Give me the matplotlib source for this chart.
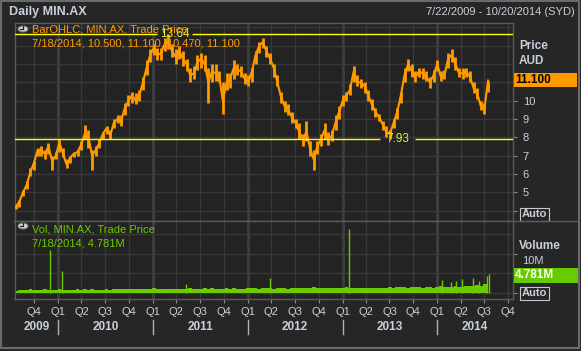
import matplotlib
matplotlib.use('Agg')
import matplotlib.pyplot as plt
import matplotlib.dates as mdates
from matplotlib.transforms import blended_transform_factory
from matplotlib.patches import Rectangle, Circle
from matplotlib.lines import Line2D
import pandas as pd

plt.rcParams['font.family'] = ['Liberation Sans', 'DejaVu Sans']

# ---------------- data ----------------
price_start = '2009-07-22'      # bi-weekly samples of the daily OHLC bars
price_close = [4.2, 4.5, 5.0, 5.4, 6.1, 6.6, 7.3, 7.3, 7.1, 7.5,
               6.7, 7.0, 7.7, 7.1, 6.5, 6.9, 7.1, 7.2, 7.6, 8.2,
               8.0, 7.0, 7.3, 7.7, 8.2, 8.5, 8.1, 8.8, 9.0, 8.9,
               9.6, 10.0, 10.3, 10.0, 10.3, 11.0, 11.8, 12.5, 12.9, 12.5,
               12.6, 13.1, 13.2, 12.7, 12.4, 12.7, 12.3, 12.0, 11.4, 11.5,
               12.1, 12.3, 12.0, 11.0, 11.6, 11.5, 11.3, 10.0, 11.0, 11.2,
               11.8, 11.7, 11.6, 11.2, 11.0, 11.6, 12.5, 13.0, 13.2, 12.7,
               12.3, 11.8, 11.0, 10.2, 9.7, 9.5, 9.1, 8.8, 8.3, 7.9,
               8.3, 7.4, 6.8, 7.5, 7.9, 8.4, 7.9, 8.1, 8.8, 9.4,
               10.0, 10.3, 10.6, 11.6, 11.0, 11.0, 10.8, 10.3, 9.8, 9.4,
               9.1, 8.7, 8.3, 8.2, 8.8, 9.4, 10.3, 11.4, 12.0, 11.6,
               11.3, 11.6, 11.5, 11.3, 11.0, 11.4, 12.0, 11.3, 11.4, 12.3,
               12.5, 12.0, 11.5, 11.5, 11.6, 11.3, 10.7, 10.4, 9.7, 9.6,
               11.1]
price_high = [4.3, 4.6, 5.1, 5.6, 6.3, 6.7, 7.4, 7.5, 7.3, 7.7,
              7.0, 7.2, 7.9, 7.4, 6.8, 7.0, 7.2, 7.3, 7.8, 8.7,
              8.4, 7.3, 7.5, 7.9, 8.3, 8.6, 8.4, 9.0, 9.2, 9.2,
              9.9, 10.3, 10.5, 10.4, 10.6, 11.3, 12.2, 12.8, 13.1, 12.9,
              12.9, 13.4, 13.64, 13.1, 12.8, 13.0, 12.7, 12.3, 11.8, 11.9,
              12.5, 12.6, 12.5, 11.8, 12.0, 12.0, 11.6, 11.0, 11.5, 11.5,
              12.2, 12.0, 11.9, 11.5, 11.4, 11.8, 12.7, 13.2, 13.4, 13.0,
              12.6, 12.0, 11.4, 10.5, 10.0, 9.8, 9.4, 9.0, 8.8, 8.2,
              8.9, 7.8, 7.3, 7.8, 8.2, 8.8, 8.3, 8.4, 9.2, 9.7,
              10.3, 10.5, 10.9, 11.9, 11.4, 11.2, 11.0, 10.6, 10.1, 9.6,
              9.3, 8.9, 8.6, 8.4, 9.0, 9.6, 10.5, 11.8, 12.3, 12.0,
              11.6, 11.8, 11.8, 11.6, 11.3, 11.7, 12.2, 11.6, 11.7, 12.6,
              12.8, 12.4, 11.8, 11.8, 11.8, 11.6, 11.0, 10.7, 10.0, 9.9,
              11.1]
price_low = [4.1, 4.2, 4.8, 5.2, 5.9, 6.2, 7.0, 7.0, 6.8, 7.1,
             6.2, 6.8, 7.2, 6.9, 6.3, 6.6, 6.9, 7.0, 7.3, 7.9,
             7.4, 6.2, 7.0, 7.4, 7.9, 8.2, 7.9, 8.5, 8.8, 8.6,
             9.2, 9.7, 9.9, 9.8, 10.0, 10.6, 11.4, 12.1, 12.5, 12.2,
             12.2, 12.7, 12.8, 12.4, 12.0, 12.3, 11.9, 11.6, 11.0, 11.2,
             11.7, 11.8, 11.6, 9.9, 11.0, 11.1, 11.0, 9.3, 10.6, 10.7,
             11.2, 11.4, 11.3, 10.9, 10.8, 11.0, 12.0, 12.6, 12.9, 12.4,
             12.0, 11.3, 10.8, 9.9, 9.4, 9.2, 8.8, 8.5, 7.9, 7.5,
             7.8, 7.0, 6.2, 7.1, 7.5, 7.9, 7.6, 7.8, 8.4, 9.0,
             9.7, 10.0, 10.3, 11.0, 10.8, 10.7, 10.4, 10.0, 9.5, 9.1,
             8.9, 8.4, 8.0, 7.93, 8.5, 9.0, 9.9, 11.0, 11.6, 11.3,
             11.0, 11.3, 11.2, 11.1, 10.7, 11.0, 11.6, 11.1, 11.2, 11.8,
             12.1, 11.7, 11.3, 11.2, 11.3, 11.0, 10.4, 10.1, 9.5, 9.3,
             10.5]
vol_base = [0.6, 0.7, 0.8, 0.7, 0.9, 0.8, 0.7, 0.8, 0.9, 0.8,
            0.7, 0.8, 0.9, 0.8, 0.7, 0.7, 0.8, 0.9, 0.8, 0.9,
            0.8, 0.9, 0.8, 0.7, 0.8, 0.9, 0.8, 0.9, 1.0, 0.9,
            1.0, 0.9, 1.1, 1.0, 0.9, 1.0, 1.1, 1.0, 1.2, 1.1,
            1.0, 1.1, 1.0, 0.9, 1.0, 1.1, 1.0, 1.1, 1.2, 1.0,
            1.1, 1.0, 1.2, 1.1, 1.3, 1.1, 1.0, 1.1, 1.2, 1.1,
            1.2, 1.1, 1.0, 1.1, 1.2, 1.3, 1.2, 1.1, 1.2, 1.3,
            1.2, 1.1, 1.2, 1.3, 1.2, 1.1, 1.2, 1.3, 1.4, 1.2,
            1.3, 1.4, 1.5, 1.3, 1.2, 1.3, 1.2, 1.3, 1.4, 1.3,
            1.4, 1.5, 1.3, 1.4, 1.3, 1.4, 1.3, 1.2, 1.4, 1.3,
            1.4, 1.3, 1.4, 1.5, 1.4, 1.5, 1.6, 1.5, 1.4, 1.5,
            1.6, 1.5, 1.4, 1.6, 1.5, 1.4, 1.6, 1.7, 1.5, 1.6,
            1.5, 1.7, 1.6, 1.5, 1.8, 1.7, 1.9, 2.0, 1.9, 2.2,
            2.4]
spike_dates = ['2009-11-29', '2010-01-16', '2011-05-10', '2012-03-26', '2013-01-25',
               '2014-01-20', '2014-02-25', '2014-03-15', '2014-04-05', '2014-05-18',
               '2014-06-10', '2014-07-10', '2014-07-18']
spike_vals = [11.0, 5.6, 2.4, 3.8, 16.4, 3.3, 2.8, 3.0, 3.6, 3.8, 3.0, 4.3, 4.781]

hi_line, lo_line = 13.64, 7.93
hi_label_date, lo_label_date = '2011-03-26', '2013-08-02'
last_close_label = '11.100'
last_vol_label = '4.781M'

x_start, x_end = '2009-07-17', '2014-10-20'

# ---------------- layout ----------------
W, H = 581, 351
fig = plt.figure(figsize=(W / 100, H / 100), dpi=100)
BG = '#232323'
fig.patch.set_facecolor('#262626')
TXT = '#C8D0DA'
ORANGE = '#FF9A00'
GREEN = '#6CCB00'
GRID = '#383838'


def fx(px):
    return px / W


def fy(py):
    return 1 - py / H


L, R = 14.5, 513
axp = fig.add_axes([fx(L), fy(221), (R - L) / W, (221 - 22.7) / H])
axv = fig.add_axes([fx(L), fy(299), (R - L) / W, (299 - 221) / H], sharex=axp)

dates = pd.date_range(price_start, periods=len(price_close), freq='14D')
vdates = pd.date_range(price_start, periods=len(vol_base), freq='14D')
sd = pd.to_datetime(spike_dates)
xlo, xhi = pd.Timestamp(x_start), pd.Timestamp(x_end)

for ax in (axp, axv):
    ax.set_facecolor(BG)
    for s in ax.spines.values():
        s.set_color('#5a5a5a')
        s.set_linewidth(1)
    ax.spines['top'].set_visible(False)
    for q in pd.date_range('2009-10-01', '2014-10-01', freq='QS'):
        if q.month == 1:
            ax.axvline(q, color='#3e3e3e', lw=2.0, zorder=0)
        else:
            ax.axvline(q, color=GRID, lw=1.0, zorder=0)

axp.set_xlim(xlo, xhi)
axp.set_ylim(3.43, 14.26)
for v in range(4, 15):
    axp.axhline(v, color=GRID, lw=1.0, zorder=0)
axv.set_ylim(-1.54, 18.46)
for v in (0, 5, 10, 15):
    axv.axhline(v, color=GRID, lw=1.0, zorder=0)

# price: high-low bars + close line
axp.vlines(dates, price_low, price_high, color=ORANGE, lw=2.0, zorder=3)
axp.plot(dates, price_close, color=ORANGE, lw=1.5, zorder=3)

# hi / lo lines, broken around their labels
gap = pd.Timedelta(days=68)
for val, dlab in ((hi_line, hi_label_date), (lo_line, lo_label_date)):
    d = pd.Timestamp(dlab)
    axp.hlines([val, val], [xlo, d + gap], [d - gap, xhi], color='#FFFF00', lw=1.0, zorder=4)
    axp.text(d, val, f'{val:.2f}', color='#E6F028', fontsize=8.5,
             ha='center', va='center', zorder=5)

# volume
axv.fill_between(vdates, 0, vol_base, step='mid', color=GREEN, lw=0, zorder=3)
axv.vlines(sd, 0, spike_vals, color=GREEN, lw=1.0, zorder=3)

# ticks
axp.tick_params(axis='x', which='both', bottom=False, labelbottom=False)
axp.yaxis.tick_right()
axp.set_yticks([4, 5, 6, 7, 8, 9, 10])
axp.set_yticklabels(['', '5', '6', '7', '8', '9', '10'])
axp.tick_params(axis='y', colors='#8a8a8a', length=3, pad=4, labelcolor=TXT, labelsize=8)

axv.yaxis.tick_right()
axv.set_yticks([0, 10])
axv.set_yticklabels(['', ''])
axv.tick_params(axis='y', colors='#8a8a8a', length=3)

qs = pd.date_range('2009-10-01', '2014-10-01', freq='QS')
axv.set_xticks(qs)
axv.set_xticklabels([f'Q{(d.month - 1) // 3 + 1}' for d in qs])
axv.tick_params(axis='x', colors='#8a8a8a', length=3, pad=3, labelcolor=TXT, labelsize=8)

# year labels and separators
trans = blended_transform_factory(axv.transData, fig.transFigure)
years = [2009, 2010, 2011, 2012, 2013, 2014]
for y in years:
    a = max(pd.Timestamp(f'{y}-01-01'), xlo)
    b = min(pd.Timestamp(f'{y + 1}-01-01'), xhi)
    mid = a + (b - a) / 2
    fig.text(mdates.date2num(mid), fy(327), str(y), transform=trans, ha='center', va='center',
             color=TXT, fontsize=8.5, fontweight='bold')
    if y > 2009:
        fig.add_artist(Line2D([mdates.date2num(pd.Timestamp(f'{y}-01-01'))] * 2, [fy(320), fy(334)],
                              transform=trans, color='#b0b0b0', lw=1))

# header texts
fig.text(fx(9), fy(12), 'Daily MIN.AX', color=TXT, fontsize=9, fontweight='bold', va='center', ha='left')
fig.text(fx(575), fy(12), '7/22/2009 - 10/20/2014 (SYD)', color=TXT, fontsize=8, va='center', ha='right')

fig.text(fx(32), fy(30), 'BarOHLC, MIN.AX, Trade Price', color=ORANGE, fontsize=8, va='center', ha='left')
fig.text(fx(32), fy(44), '7/18/2014, 10.500, 11.100, 10.470, 11.100', color=ORANGE, fontsize=8, va='center', ha='left')
fig.text(fx(32), fy(229), 'Vol, MIN.AX, Trade Price', color=GREEN, fontsize=8, va='center', ha='left')
fig.text(fx(32), fy(243), '7/18/2014, 4.781M', color=GREEN, fontsize=8, va='center', ha='left')

# clock icons
for cy in (29, 226):
    c = Circle((fx(23), fy(cy)), radius=5 / W, transform=fig.transFigure, facecolor='#d8dde4',
               edgecolor='#707070', lw=0.8)
    fig.add_artist(c)
    fig.add_artist(Line2D([fx(23), fx(23)], [fy(cy), fy(cy - 3.5)], transform=fig.transFigure, color='#202020', lw=0.9))
    fig.add_artist(Line2D([fx(23), fx(20)], [fy(cy), fy(cy)], transform=fig.transFigure, color='#202020', lw=0.9))

# right side labels
fig.text(fx(519), fy(46), 'Price', color=TXT, fontsize=8.5, fontweight='bold', va='center', ha='left')
fig.text(fx(519), fy(61), 'AUD', color=TXT, fontsize=8.5, fontweight='bold', va='center', ha='left')
fig.add_artist(Rectangle((fx(514), fy(87)), (577 - 514) / W, 14 / H, transform=fig.transFigure,
                         facecolor='#FF9900', edgecolor='none'))
fig.text(fx(515), fy(80), last_close_label, color='#000000', fontsize=8.5, fontweight='bold', va='center', ha='left')

fig.text(fx(519), fy(246), 'Volume', color=TXT, fontsize=8.5, fontweight='bold', va='center', ha='left')
fig.text(fx(522), fy(261), '10M', color=TXT, fontsize=8, va='center', ha='left')
fig.add_artist(Rectangle((fx(514), fy(283)), (579 - 514) / W, 15 / H, transform=fig.transFigure,
                         facecolor='#66CC00', edgecolor='none'))
fig.text(fx(515), fy(275.5), last_vol_label, color='#FFFFFF', fontsize=8.5, fontweight='bold', va='center', ha='left')

for top in (208, 287):
    fig.add_artist(Rectangle((fx(520), fy(top + 12.5)), 29 / W, 12.5 / H, transform=fig.transFigure,
                             facecolor='#262626', edgecolor='#c8c8c8', lw=0.8))
    fig.text(fx(534.5), fy(top + 6.3), 'Auto', color=TXT, fontsize=8, fontweight='bold', va='center', ha='center')

# separator lines
fig.add_artist(Line2D([fx(L), fx(578)], [fy(221), fy(221)], transform=fig.transFigure, color='#5a5a5a', lw=1))
fig.add_artist(Line2D([fx(L), fx(R)], [fy(22.7), fy(22.7)], transform=fig.transFigure, color='#5a5a5a', lw=1))
# outer border
fig.add_artist(Rectangle((fx(1), fy(348)), 578 / W, 347 / H, transform=fig.transFigure,
                         facecolor='none', edgecolor='#6a6a6a', lw=1.5))

fig.savefig('out.png', dpi=100, facecolor=fig.get_facecolor())
